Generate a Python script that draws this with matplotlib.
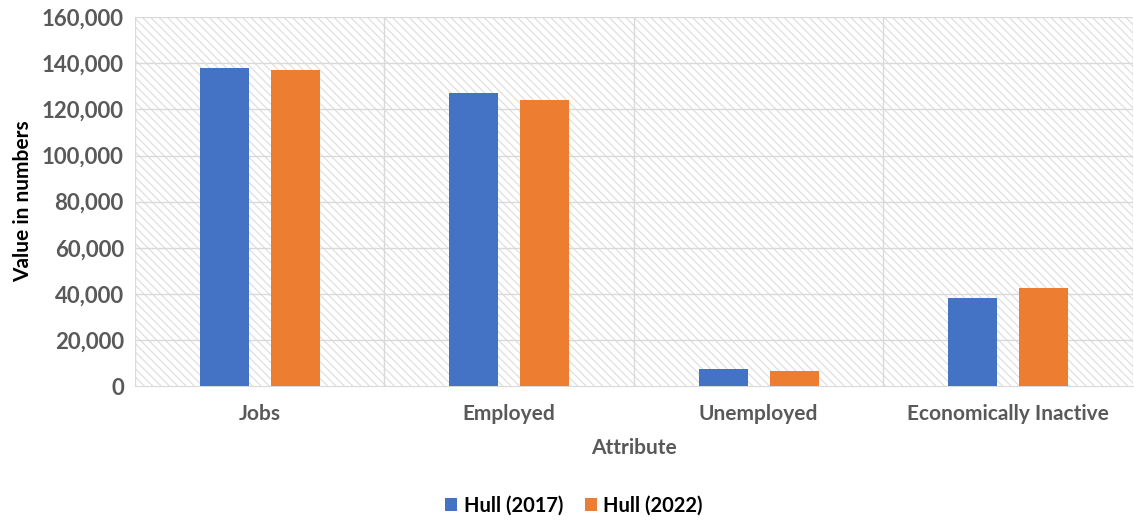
import numpy as np
import matplotlib.pyplot as plt
from matplotlib.patches import Rectangle
from matplotlib.ticker import FuncFormatter

atributos = ["Jobs", "Employed", "Unemployed", "Economically Inactive"]
hull_2017 = [138000, 127000, 7400, 38200]
hull_2022 = [137000, 124000, 6600, 42500]

plt.rcParams['font.family'] = ['Lato', 'DejaVu Sans']
plt.rcParams['hatch.linewidth'] = 0.8
gris = '#595959'
grid_col = '#d9d9d9'

fig = plt.figure(figsize=(11.34, 5.21), dpi=100)
ax = fig.add_axes([0.119, 0.259, 0.880, 0.708])

# fondo rayado del area de trazado
fondo = Rectangle((0, 0), 1, 1, transform=ax.transAxes, facecolor='white',
                  edgecolor='#dcdcdc', hatch='\\\\\\\\', linewidth=0, zorder=0)
ax.add_patch(fondo)

x = np.arange(len(atributos))
ancho = 0.196
ax.bar(x - 0.142, hull_2017, ancho, color='#4472c4', label='Hull (2017)', zorder=3)
ax.bar(x + 0.142, hull_2022, ancho, color='#ed7d31', label='Hull (2022)', zorder=3)

ax.set_xlim(-0.5, len(atributos) - 0.5)
ax.set_ylim(0, 160000)
ax.set_yticks(np.arange(0, 160001, 20000))
ax.yaxis.set_major_formatter(FuncFormatter(lambda v, p: f"{int(v):,}"))
ax.set_xticks(x)
ax.set_xticklabels(atributos)

for y in np.arange(20000, 160001, 20000):
    ax.axhline(y, color=grid_col, linewidth=1, zorder=1)
for b in np.arange(-0.5, len(atributos), 1.0):
    ax.axvline(b, color=grid_col, linewidth=1, zorder=1)

for s in ['top', 'right', 'left']:
    ax.spines[s].set_visible(False)
ax.spines['bottom'].set_color(grid_col)
ax.tick_params(axis='x', length=0, labelsize=15, labelcolor=gris, pad=13)
ax.tick_params(axis='y', length=0, labelsize=16, labelcolor=gris, pad=8)
for t in ax.get_xticklabels() + ax.get_yticklabels():
    t.set_fontweight('bold')

ax.set_xlabel("Attribute", fontsize=15, fontweight='bold', color=gris, labelpad=10)
ax.set_ylabel("Value in numbers", fontsize=15, fontweight='bold', color='black', labelpad=6)

ax.legend(loc='center', bbox_to_anchor=(0.44, -0.325), ncol=2, frameon=False,
          handlelength=0.6, handleheight=0.6, handletextpad=0.3, columnspacing=1.1,
          prop={'weight': 'bold', 'size': 14.5})

fig.savefig("out.png", dpi=100)
